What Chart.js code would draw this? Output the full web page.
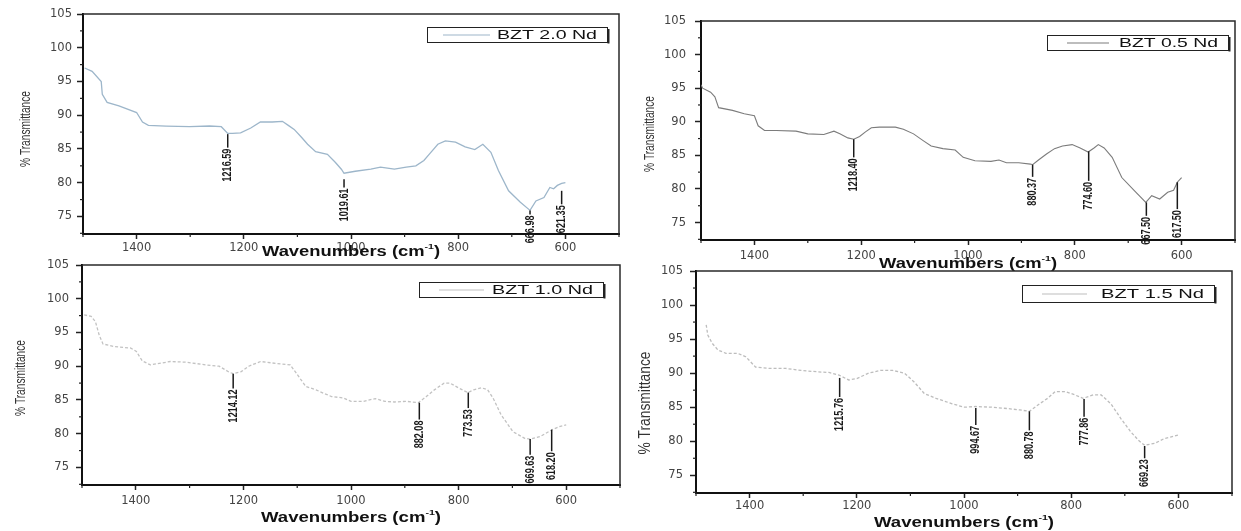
<!DOCTYPE html>
<html>
<head>
<meta charset="utf-8">
<title>FTIR - BZT Nd</title>
<script src="https://cdn.jsdelivr.net/npm/chart.js@4.4.1/dist/chart.umd.min.js"></script>
<style>
  html, body { margin: 0; padding: 0; background: #fff; }
  #page { position: relative; width: 1241px; height: 531px; overflow: hidden; }
  .panel { position: absolute; left: 0; top: 0; width: 1241px; height: 531px; }
</style>
</head>
<body>
<div id="page">
  <div class="panel"><canvas id="c20"></canvas></div>
  <div class="panel"><canvas id="c05"></canvas></div>
  <div class="panel"><canvas id="c10"></canvas></div>
  <div class="panel"><canvas id="c15"></canvas></div>
</div>
<script>
// eixos (iguais nos 4 graficos)
const xTicks = [1400, 1200, 1000, 800, 600];
const xMinor = [1500, 1300, 1100, 900, 700, 500];
const yTicks = [75, 80, 85, 90, 95, 100, 105];
const yMinor = [72.5, 77.5, 82.5, 87.5, 92.5, 97.5, 102.5];

// BZT 2.0 Nd
const wave20 = [1497,1483,1466,1464,1455,1433,1400,1389,1378,1345,1301,1264,1242,1230,1221,1206,1187,1169,1147,1128,1117,1106,1092,1081,1066,1044,1029,1018,1013,992,963,945,919,897,879,864,853,838,824,805,787,769,754,739,725,706,684,666,655,640,629,622,615,607,600];
const trans20 = [97.0,96.5,95.0,93.1,91.9,91.4,90.4,89.0,88.5,88.4,88.3,88.4,88.3,87.3,87.3,87.4,88.1,89.0,89.0,89.1,88.5,87.9,86.7,85.7,84.6,84.2,83.0,82.0,81.4,81.7,82.0,82.3,82.0,82.3,82.5,83.3,84.3,85.7,86.2,86.0,85.3,84.9,85.7,84.5,81.8,78.8,77.1,75.9,77.3,77.8,79.3,79.1,79.6,79.9,80.0];
const peakAt20 = [1230, 1013, 666, 607];
const peakTop20 = [87.2, 80.5, 75.9, 78.8];
const peakEnd20 = [85.2, 79.3, 75.3, 76.8];
const peakText20 = ['1216.59', '1019.61', '666.98', '621.35'];

// BZT 0.5 Nd
const wave05 = [1500,1497,1482,1474,1467,1441,1419,1400,1393,1381,1359,1322,1300,1270,1251,1240,1225,1214,1203,1192,1181,1166,1136,1121,1102,1084,1069,1047,1024,1009,987,957,942,928,905,883,879,868,853,838,823,805,790,775,764,756,745,730,712,689,667,656,641,626,615,608,600];
const trans05 = [95.5,95.0,94.4,93.7,92.1,91.7,91.2,90.9,89.4,88.7,88.7,88.6,88.2,88.1,88.6,88.2,87.6,87.4,87.8,88.5,89.1,89.2,89.2,88.9,88.2,87.2,86.4,86.0,85.8,84.7,84.2,84.1,84.3,83.9,83.9,83.7,83.6,84.3,85.2,86.0,86.4,86.6,86.1,85.5,86.1,86.6,86.1,84.7,81.7,79.8,78.0,79.0,78.5,79.5,79.8,81.0,81.7];
const peakAt05 = [1214, 879, 774, 666, 608];
const peakTop05 = [87.4, 83.6, 85.6, 78.0, 81.0];
const peakEnd05 = [84.7, 81.8, 81.2, 76.0, 77.0];
const peakText05 = ['1218.40', '880.37', '774.60', '667.50', '617.50'];

// BZT 1.0 Nd
const wave10 = [1496,1483,1475,1468,1461,1439,1410,1399,1388,1373,1336,1307,1270,1245,1226,1219,1204,1190,1168,1138,1113,1102,1084,1065,1051,1036,1014,1000,977,955,937,919,897,875,860,845,827,816,798,783,772,757,746,736,721,699,677,666,648,626,611,600];
const trans10 = [97.6,97.4,96.6,94.6,93.3,92.9,92.7,92.2,90.8,90.2,90.7,90.6,90.2,90.0,89.1,88.9,89.2,90.0,90.7,90.4,90.2,89.0,87.0,86.5,86.0,85.5,85.3,84.8,84.8,85.2,84.8,84.7,84.8,84.6,85.5,86.5,87.5,87.5,86.7,86.1,86.5,86.8,86.5,85.3,82.8,80.3,79.3,79.2,79.6,80.6,81.1,81.3];
const peakAt10 = [1219, 873, 782, 667, 627];
const peakTop10 = [88.9, 84.6, 86.1, 79.2, 80.6];
const peakEnd10 = [86.7, 82.1, 83.8, 76.9, 77.4];
const peakText10 = ['1214.12', '882.08', '773.53', '669.63', '618.20'];

// BZT 1.5 Nd
const wave15 = [1481,1478,1470,1459,1444,1422,1407,1389,1363,1333,1304,1274,1252,1233,1215,1200,1178,1156,1133,1111,1093,1074,1052,1022,1000,978,948,919,896,878,859,844,830,811,793,778,759,744,726,707,689,674,663,644,626,615,600];
const trans15 = [97.1,95.6,94.4,93.4,92.9,92.9,92.4,90.9,90.7,90.7,90.4,90.2,90.1,89.7,89.0,89.2,90.0,90.4,90.4,90.0,88.7,87.0,86.3,85.5,85.0,85.1,85.0,84.8,84.6,84.4,85.5,86.3,87.3,87.3,86.8,86.3,86.8,86.8,85.5,83.3,81.4,80.1,79.4,79.7,80.4,80.6,80.9];
const peakAt15 = [1232, 978, 878, 776, 663];
const peakTop15 = [89.3, 84.9, 84.4, 86.2, 79.3];
const peakEnd15 = [86.5, 82.4, 81.6, 83.6, 77.5];
const peakText15 = ['1215.76', '994.67', '880.78', '777.86', '669.23'];

const PAGE_W = 1241, PAGE_H = 531;
const SANS = '"Liberation Sans", Arial, sans-serif';

// posicao de cada painel na pagina
const panels = [
  { id: 'c20', name: 'BZT 2.0 Nd', wave: wave20, trans: trans20,
    peaks: [peakAt20, peakTop20, peakEnd20, peakText20],
    color: '#9db6ca', width: 1.3, dash: [],
    area: { left: 83, top: 14, right: 619, bottom: 234 }, yPad: 5, xPad: 2,
    yTitle: { x: 26, y: 129, len: 76, size: 14 }, xTitle: { y: 252, w: 178 },
    legend: { right: 12, top: 13, w: 180, h: 15, lineX: 16, lineW: 47, textW: 100 } },
  { id: 'c05', name: 'BZT 0.5 Nd', wave: wave05, trans: trans05,
    peaks: [peakAt05, peakTop05, peakEnd05, peakText05],
    color: '#7c7c7c', width: 1.1, dash: [],
    area: { left: 701, top: 21, right: 1235, bottom: 240 }, yPad: 9, xPad: 4,
    yTitle: { x: 650, y: 134, len: 76, size: 14 }, xTitle: { y: 264, w: 178 },
    legend: { right: 7, top: 14, w: 181, h: 15, lineX: 20, lineW: 42, textW: 99 } },
  { id: 'c10', name: 'BZT 1.0 Nd', wave: wave10, trans: trans10,
    peaks: [peakAt10, peakTop10, peakEnd10, peakText10],
    color: '#c2c2c2', width: 1.3, dash: [3, 2],
    area: { left: 82, top: 265, right: 620, bottom: 485 }, yPad: 7, xPad: 4,
    yTitle: { x: 21, y: 378, len: 76, size: 14 }, xTitle: { y: 518, w: 180 },
    legend: { right: 17, top: 17, w: 184, h: 15, lineX: 20, lineW: 45, textW: 101 } },
  { id: 'c15', name: 'BZT 1.5 Nd', wave: wave15, trans: trans15,
    peaks: [peakAt15, peakTop15, peakEnd15, peakText15],
    color: '#bdbdbd', width: 1.3, dash: [3, 2],
    area: { left: 696, top: 271, right: 1232, bottom: 493 }, yPad: 7, xPad: 1,
    yTitle: { x: 646, y: 403, len: 103, size: 16 }, xTitle: { y: 523, w: 180 },
    legend: { right: 18, top: 14, w: 192, h: 17, lineX: 20, lineW: 45, textW: 103 } }
];

function seg(ctx, x0, y0, x1, y1) {
  ctx.beginPath(); ctx.moveTo(x0, y0); ctx.lineTo(x1, y1); ctx.stroke();
}

// moldura, ticks menores, picos, legenda e titulos dos eixos
function decor(p) {
  return {
    id: 'decor_' + p.id,
    afterDraw(chart) {
      const ctx = chart.ctx, a = chart.chartArea;
      const xs = chart.scales.x, ys = chart.scales.y;
      ctx.save();

      ctx.strokeStyle = '#2a2a2a'; ctx.lineWidth = 1.5;
      ctx.beginPath(); ctx.moveTo(a.left, a.top); ctx.lineTo(a.right, a.top); ctx.lineTo(a.right, a.bottom); ctx.stroke();

      ctx.strokeStyle = '#222'; ctx.lineWidth = 1.2;
      xMinor.forEach(v => { const x = xs.getPixelForValue(v); seg(ctx, x, a.bottom, x, a.bottom + 3); });
      yMinor.forEach(v => { const y = ys.getPixelForValue(v); seg(ctx, a.left - 3, y, a.left, y); });

      const [at, top, end, txt] = p.peaks;
      at.forEach((w, i) => {
        const x = xs.getPixelForValue(w);
        const y0 = ys.getPixelForValue(top[i]), y1 = ys.getPixelForValue(end[i]);
        ctx.strokeStyle = '#1a1a1a'; ctx.lineWidth = 1.5;
        seg(ctx, x, y0, x, y1);
        ctx.save();
        ctx.translate(x, y1 + 1);
        ctx.rotate(-Math.PI / 2);
        ctx.scale(0.7, 1);
        ctx.font = 'bold 13px ' + SANS;
        ctx.fillStyle = '#1a1a1a';
        ctx.textAlign = 'right'; ctx.textBaseline = 'middle';
        ctx.fillText(txt[i], 0, 0);
        ctx.restore();
      });

      // legenda
      const L = p.legend;
      const bx = a.right - L.right - L.w, by = a.top + L.top;
      ctx.strokeStyle = '#222'; ctx.lineWidth = 1;
      ctx.strokeRect(bx + 0.5, by + 0.5, L.w, L.h);
      ctx.lineWidth = 2;
      seg(ctx, bx + L.w + 1.5, by + 2, bx + L.w + 1.5, by + L.h + 1.5);
      ctx.strokeStyle = p.color; ctx.lineWidth = 1.2;
      seg(ctx, bx + L.lineX, by + L.h / 2 + 0.5, bx + L.lineX + L.lineW, by + L.h / 2 + 0.5);
      ctx.save();
      ctx.font = '13px ' + SANS;
      const nw = ctx.measureText(p.name).width;
      ctx.translate(bx + L.w - 10 - L.textW, by + L.h / 2 + 1);
      ctx.scale(L.textW / nw, 1);
      ctx.fillStyle = '#111'; ctx.textAlign = 'left'; ctx.textBaseline = 'middle';
      ctx.fillText(p.name, 0, 0);
      ctx.restore();

      // titulo eixo x
      const parts = [['Wavenumbers (cm', 'bold 14px ' + SANS, 0], ['-1', 'bold 8px ' + SANS, -5], [')', 'bold 14px ' + SANS, 0]];
      let total = 0;
      parts.forEach(pt => { ctx.font = pt[1]; pt.push(ctx.measureText(pt[0]).width); total += pt[3]; });
      ctx.save();
      ctx.translate((a.left + a.right) / 2, p.xTitle.y);
      ctx.scale(p.xTitle.w / total, 1);
      ctx.fillStyle = '#111'; ctx.textAlign = 'left'; ctx.textBaseline = 'middle';
      let cx = -total / 2;
      parts.forEach(pt => { ctx.font = pt[1]; ctx.fillText(pt[0], cx, pt[2]); cx += pt[3]; });
      ctx.restore();

      // titulo eixo y
      ctx.save();
      ctx.font = p.yTitle.size + 'px ' + SANS;
      const tw = ctx.measureText('% Transmittance').width;
      ctx.translate(p.yTitle.x, p.yTitle.y);
      ctx.rotate(-Math.PI / 2);
      ctx.scale(p.yTitle.len / tw, 1);
      ctx.fillStyle = '#333'; ctx.textAlign = 'center'; ctx.textBaseline = 'middle';
      ctx.fillText('% Transmittance', 0, 0);
      ctx.restore();

      ctx.restore();
    }
  };
}

function buildChart(p) {
  const a = p.area;
  const pts = p.wave.map((w, i) => ({ x: w, y: p.trans[i] }));
  const tickFont = { family: '"DejaVu Sans", sans-serif', size: 11.5 };
  return new Chart(document.getElementById(p.id), {
    type: 'line',
    data: {
      datasets: [{
        label: p.name, data: pts,
        borderColor: p.color, borderWidth: p.width, borderDash: p.dash,
        pointRadius: 0, tension: 0, fill: false
      }]
    },
    options: {
      responsive: true, maintainAspectRatio: false, animation: false, events: [],
      layout: { padding: { left: 0, top: a.top, right: PAGE_W - a.right, bottom: PAGE_H - a.bottom - 26 } },
      plugins: { legend: { display: false }, tooltip: { enabled: false } },
      scales: {
        x: {
          type: 'linear', reverse: true, min: 500, max: 1500,
          afterBuildTicks: s => { s.ticks = xTicks.map(v => ({ value: v })); },
          afterFit: s => { s.height = 26; },
          ticks: { font: tickFont, color: '#444', padding: p.xPad, maxRotation: 0, autoSkip: false, callback: v => String(v) },
          grid: { drawOnChartArea: false, drawTicks: true, tickLength: 5, tickColor: '#222', tickWidth: 1.5 },
          border: { display: true, color: '#111', width: 2 }
        },
        y: {
          type: 'linear', min: 72.4, max: 105,
          afterBuildTicks: s => { s.ticks = yTicks.map(v => ({ value: v })); },
          afterFit: s => { s.width = a.left; },
          ticks: { font: tickFont, color: '#444', padding: p.yPad, callback: v => String(v) },
          grid: { drawOnChartArea: false, drawTicks: true, tickLength: 6, tickColor: '#222', tickWidth: 1.5 },
          border: { display: true, color: '#111', width: 2 }
        }
      }
    },
    plugins: [decor(p)]
  });
}

panels.forEach(buildChart);
</script>
</body>
</html>
